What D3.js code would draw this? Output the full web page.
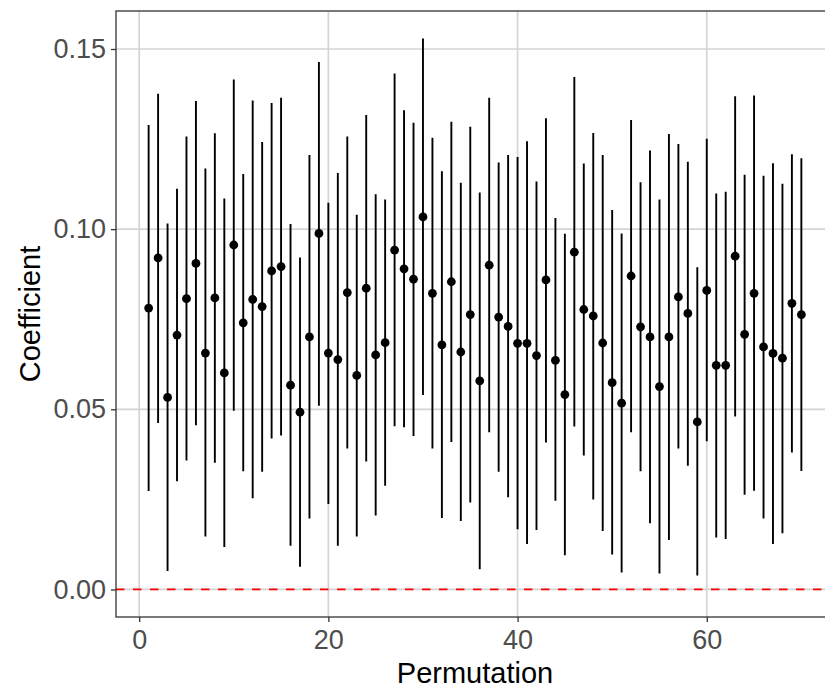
<!DOCTYPE html>
<html>
<head>
<meta charset="utf-8">
<script src="https://d3js.org/d3.v7.min.js"></script>
<style>
  body { margin: 0; background: #ffffff; }
  text { font-family: "Liberation Sans", Arial, sans-serif; }
</style>
</head>
<body>
<div id="main"></div>
<script>

// permutation index (x categories)
var permutation = [1, 2, 3, 4, 5, 6, 7, 8, 9, 10, 11, 12, 13, 14, 15, 16, 17, 18, 19, 20,
  21, 22, 23, 24, 25, 26, 27, 28, 29, 30, 31, 32, 33, 34, 35, 36, 37, 38, 39, 40,
  41, 42, 43, 44, 45, 46, 47, 48, 49, 50, 51, 52, 53, 54, 55, 56, 57, 58, 59, 60,
  61, 62, 63, 64, 65, 66, 67, 68, 69, 70];

// point estimate
var coef = [0.0781, 0.0920, 0.0533, 0.0706, 0.0807, 0.0905, 0.0656, 0.0809, 0.0601, 0.0956,
  0.0740, 0.0805, 0.0785, 0.0884, 0.0896, 0.0567, 0.0492, 0.0701, 0.0988, 0.0656,
  0.0638, 0.0824, 0.0594, 0.0836, 0.0651, 0.0685, 0.0942, 0.0890, 0.0861, 0.1034,
  0.0822, 0.0679, 0.0854, 0.0659, 0.0763, 0.0579, 0.0900, 0.0756, 0.0730, 0.0683,
  0.0683, 0.0649, 0.0859, 0.0636, 0.0541, 0.0936, 0.0777, 0.0759, 0.0684, 0.0574,
  0.0517, 0.0870, 0.0729, 0.0701, 0.0563, 0.0701, 0.0812, 0.0766, 0.0465, 0.0830,
  0.0622, 0.0622, 0.0925, 0.0708, 0.0822, 0.0673, 0.0655, 0.0642, 0.0794, 0.0763];

// lower end of interval
var lower = [0.0273, 0.0462, 0.0051, 0.0300, 0.0358, 0.0456, 0.0147, 0.0352, 0.0118, 0.0496,
  0.0328, 0.0253, 0.0327, 0.0419, 0.0427, 0.0121, 0.0063, 0.0197, 0.0510, 0.0237,
  0.0121, 0.0391, 0.0147, 0.0355, 0.0205, 0.0288, 0.0453, 0.0450, 0.0426, 0.0540,
  0.0391, 0.0198, 0.0409, 0.0190, 0.0241, 0.0056, 0.0436, 0.0327, 0.0256, 0.0167,
  0.0126, 0.0165, 0.0408, 0.0246, 0.0095, 0.0452, 0.0372, 0.0250, 0.0162, 0.0097,
  0.0047, 0.0436, 0.0328, 0.0184, 0.0044, 0.0137, 0.0391, 0.0343, 0.0039, 0.0411,
  0.0144, 0.0140, 0.0480, 0.0263, 0.0274, 0.0197, 0.0126, 0.0156, 0.0380, 0.0329];

// upper end of interval
var upper = [0.1289, 0.1376, 0.1016, 0.1112, 0.1257, 0.1356, 0.1168, 0.1266, 0.1085, 0.1415,
  0.1153, 0.1357, 0.1242, 0.1350, 0.1365, 0.1014, 0.0921, 0.1206, 0.1464, 0.1073,
  0.1156, 0.1257, 0.1040, 0.1317, 0.1097, 0.1082, 0.1432, 0.1330, 0.1295, 0.1529,
  0.1254, 0.1161, 0.1298, 0.1129, 0.1284, 0.1102, 0.1365, 0.1185, 0.1206, 0.1200,
  0.1244, 0.1132, 0.1308, 0.1031, 0.0987, 0.1422, 0.1182, 0.1267, 0.1206, 0.1053,
  0.0988, 0.1303, 0.1130, 0.1218, 0.1082, 0.1264, 0.1236, 0.1187, 0.0894, 0.1251,
  0.1099, 0.1104, 0.1369, 0.1151, 0.1371, 0.1148, 0.1183, 0.1126, 0.1208, 0.1197];

var xTicks = [0, 20, 40, 60];
var yTicks = [0, 0.05, 0.10, 0.15];
var refLine = 0;

var data = permutation.map(function(p, i) {
  return { perm: p, coef: coef[i], lower: lower[i], upper: upper[i] };
});

var dimensions = {
  width: 825,
  height: 689,
  margin: {
    top: 11,
    bottom: 72,
    right: -9,   // panel runs a little past the right edge, as in the original
    left: 116
  }
};
dimensions.boundedWidth = dimensions.width - dimensions.margin.left - dimensions.margin.right;
dimensions.boundedHeight = dimensions.height - dimensions.margin.top - dimensions.margin.bottom;

var svg = d3.select("#main")
  .append("svg")
    .attr("width", dimensions.width)
    .attr("height", dimensions.height);

var SVG = svg.append("g")
  .attr("transform", "translate(" + dimensions.margin.left + "," + dimensions.margin.top + ")");

// ggplot-like 5% expansion
var xExt = d3.extent(permutation);
var xPad = (xExt[1] - xExt[0]) * 0.05;
var x = d3.scaleLinear()
  .domain([xExt[0] - xPad, xExt[1] + xPad])
  .range([0, dimensions.boundedWidth]);

var yLo = Math.min(refLine, d3.min(lower));
var yHi = d3.max(upper);
var yPad = (yHi - yLo) * 0.05;
var y = d3.scaleLinear()
  .domain([yLo - yPad, yHi + yPad])
  .range([dimensions.boundedHeight, 0]);

// grid
SVG.append("g")
  .selectAll("line")
  .data(xTicks)
  .enter()
  .append("line")
    .attr("x1", function(d) { return x(d); })
    .attr("x2", function(d) { return x(d); })
    .attr("y1", 0)
    .attr("y2", dimensions.boundedHeight)
    .style("stroke", "#d4d4d4")
    .style("stroke-width", 1.7);

SVG.append("g")
  .selectAll("line")
  .data(yTicks)
  .enter()
  .append("line")
    .attr("x1", 0)
    .attr("x2", dimensions.boundedWidth)
    .attr("y1", function(d) { return y(d); })
    .attr("y2", function(d) { return y(d); })
    .style("stroke", "#d4d4d4")
    .style("stroke-width", 1.7);

// dashed reference line at zero
SVG.append("line")
  .attr("x1", 0)
  .attr("x2", dimensions.boundedWidth)
  .attr("y1", y(refLine))
  .attr("y2", y(refLine))
  .style("stroke", "#ff0000")
  .style("stroke-width", 1.7)
  .style("stroke-dasharray", "8.5,8.5");

// interval lines
SVG.append("g")
  .selectAll("line")
  .data(data)
  .enter()
  .append("line")
    .attr("x1", function(d) { return x(d.perm); })
    .attr("x2", function(d) { return x(d.perm); })
    .attr("y1", function(d) { return y(d.lower); })
    .attr("y2", function(d) { return y(d.upper); })
    .style("stroke", "#000")
    .style("stroke-width", 1.9);

// points
SVG.append("g")
  .selectAll("circle")
  .data(data)
  .enter()
  .append("circle")
    .attr("cx", function(d) { return x(d.perm); })
    .attr("cy", function(d) { return y(d.coef); })
    .attr("r", 4.4)
    .style("fill", "#000");

// panel border
SVG.append("rect")
  .attr("x", 0)
  .attr("y", 0)
  .attr("width", dimensions.boundedWidth)
  .attr("height", dimensions.boundedHeight)
  .style("fill", "none")
  .style("stroke", "#333333")
  .style("stroke-width", 1.3);

// axes
var xAxis = SVG.append("g")
  .attr("transform", "translate(0," + dimensions.boundedHeight + ")")
  .call(d3.axisBottom(x).tickValues(xTicks).tickSize(5).tickPadding(8));

var yAxis = SVG.append("g")
  .call(d3.axisLeft(y).tickValues(yTicks).tickFormat(d3.format(".2f")).tickSize(5).tickPadding(5));

[xAxis, yAxis].forEach(function(a) {
  a.select(".domain").remove();
  a.selectAll(".tick line").style("stroke", "#333333").style("stroke-width", 1.3);
  a.selectAll(".tick text")
    .style("fill", "#4d4d4d")
    .style("font-size", "27px")
    .style("font-family", "'Liberation Sans', Arial, sans-serif");
});

// axis titles
SVG.append("text")
  .attr("x", dimensions.boundedWidth / 2)
  .attr("y", dimensions.boundedHeight + 66)
  .attr("text-anchor", "middle")
  .style("font-size", "29px")
  .style("fill", "#000")
  .text("Permutation");

SVG.append("text")
  .attr("transform", "translate(" + (-76) + "," + (dimensions.boundedHeight / 2) + ") rotate(-90)")
  .attr("text-anchor", "middle")
  .style("font-size", "29px")
  .style("fill", "#000")
  .text("Coefficient");

</script>
</body>
</html>
